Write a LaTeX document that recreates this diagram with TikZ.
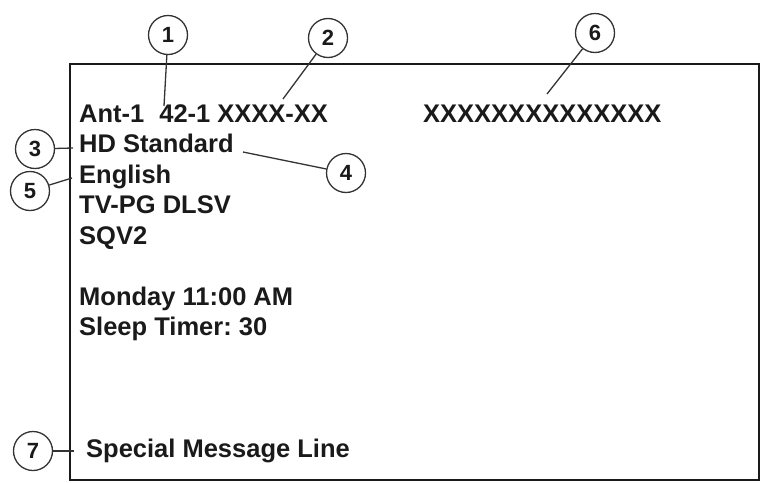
\documentclass[tikz,border=0pt]{standalone}
\usepackage{fontspec}
\setmainfont{Liberation Sans}
\definecolor{ink}{HTML}{1A1A1A}
\definecolor{callout}{HTML}{333333}
\frenchspacing
\begin{document}
\begin{tikzpicture}[x=1pt,y=-1pt,
  screentext/.style={anchor=base west,inner sep=0pt,text=ink,font=\fontsize{25.5}{25.5}\selectfont\bfseries},
  callnum/.style={circle,draw=callout,line width=1.3pt,minimum size=39pt,inner sep=0pt,text=ink,font=\fontsize{22}{22}\selectfont\bfseries},
  leader/.style={draw=callout,line width=1.3pt},
  frame/.style={draw=ink,line width=2pt}]
\useasboundingbox (0,0) rectangle (762,482);
\fill[white] (0,0) rectangle (762,482);
% screen frame
\draw[frame] (70,64) rectangle (759,480);
% screen texts
\node[screentext] (t1) at (79,122) {Ant-1\hspace{15pt}42-1 XXXX-XX};
\node[screentext] (t6) at (423,122) {XXXXXXXXXXXXXX};
\node[screentext] (t2) at (79,152.5) {HD Standard};
\node[screentext] (t3) at (79,183) {English};
\node[screentext] (t4) at (79,213.5) {TV-PG DLSV};
\node[screentext] (t5) at (79,244) {SQV2};
\node[screentext] (t7) at (79,305) {Monday 11:00 AM};
\node[screentext] (t8) at (79,335.5) {Sleep Timer: 30};
\node[screentext] (t9) at (86,457) {Special Message Line};
% callouts
\node[callnum] (c1) at (168,35) {1};
\node[callnum] (c2) at (328,38) {2};
\node[callnum] (c6) at (595,33) {6};
\node[callnum] (c3) at (35,149) {3};
\node[callnum] (c4) at (346,173) {4};
\node[callnum] (c5) at (30,191) {5};
\node[callnum] (c7) at (33,451) {7};
% leader ends
\coordinate (p1) at (164,106);
\coordinate (p2) at (283,99);
\coordinate (p6) at (547,94);
\coordinate (p3) at (73,148);
\coordinate (p4) at (243,152);
\coordinate (p5) at (72,178);
\coordinate (p7) at (74,451);
\draw[leader] (c1) -- (p1);
\draw[leader] (c2) -- (p2);
\draw[leader] (c6) -- (p6);
\draw[leader] (c3) -- (p3);
\draw[leader] (c4) -- (p4);
\draw[leader] (c5) -- (p5);
\draw[leader] (c7) -- (p7);
\end{tikzpicture}
\end{document}
